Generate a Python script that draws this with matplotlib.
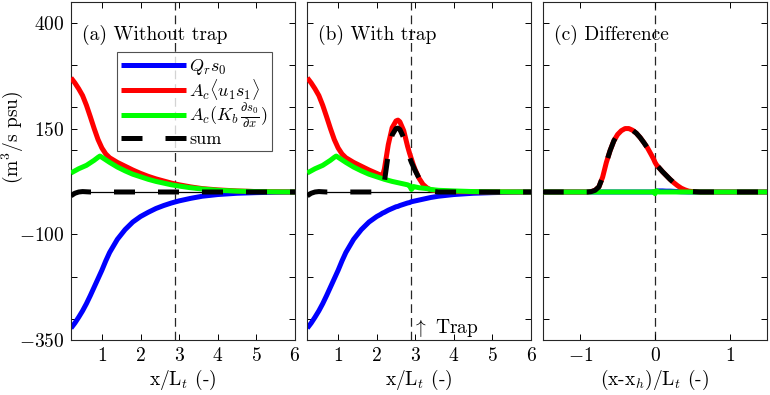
import numpy as np
import matplotlib
matplotlib.use("Agg")
import matplotlib.pyplot as plt
from matplotlib.ticker import FixedLocator, NullFormatter

plt.rcParams['font.family'] = ['cmr10']
plt.rcParams['mathtext.fontset'] = 'cm'
plt.rcParams['axes.unicode_minus'] = False
plt.rcParams['axes.formatter.use_mathtext'] = True

# ---------------- data ----------------
x_ab = [0.2, 0.3, 0.4, 0.5, 0.6, 0.7, 0.8, 0.9, 0.95, 1.0, 1.1, 1.2, 1.4, 1.6, 1.8,
        2.0, 2.2, 2.4, 2.6, 2.8, 3.0, 3.3, 3.6, 4.0, 4.5, 5.0, 5.5, 6.0]
blue_a = [-322, -310, -296, -281, -264, -245, -225, -205, -195, -185, -163, -143, -112,
          -89, -71, -58, -48, -39, -32, -26, -21, -15, -10, -6, -3, -1.5, -0.5, 0]
red_a = [270, 258, 244, 228, 205, 178, 150, 124, 114, 104, 90, 81, 70, 61, 52,
         44, 37, 31, 26, 21, 17, 12, 8, 5, 2.5, 1, 0.5, 0]
green_a = [45, 50, 55, 59, 63, 69, 75, 82, 85, 82, 76, 70, 59, 50, 42,
           36, 30, 25, 21, 17, 14, 10, 7, 4, 2, 1, 0.3, 0]
sum_a = [-9, -3, 0, 1, 0.5, 0, 0, 0, 0, 0, 0, 0, 0, 0, 0,
         0, 0, 0, 0, 0, 0, 0, 0, 0, 0, 0, 0, 0]

x_b = [0.2, 0.3, 0.4, 0.5, 0.6, 0.7, 0.8, 0.9, 0.95, 1.0, 1.1, 1.2, 1.4, 1.6, 1.8,
       2.0, 2.1, 2.15, 2.2, 2.3, 2.4, 2.5, 2.55, 2.6, 2.7, 2.8, 2.85, 2.9, 2.95,
       3.0, 3.1, 3.2, 3.3, 3.4, 3.6, 4.0, 4.5, 5.0, 5.5, 6.0]
blue_b = [-322, -310, -296, -281, -264, -245, -225, -205, -195, -185, -163, -143, -112,
          -89, -71, -58, -53, -50, -48, -43, -39, -35, -34, -32, -29, -26, -25, -23, -22,
          -21, -19, -17, -15, -13, -10, -6, -3, -1.5, -0.5, 0]
red_b = [270, 258, 244, 228, 205, 178, 150, 124, 114, 104, 90, 81, 70, 61, 52,
         44, 40, 38, 55, 112, 152, 168, 170, 166, 145, 108, 92, 78, 64,
         52, 32, 18, 10, 5, 2, 1, 0.5, 0.2, 0, 0]
green_b = [45, 50, 55, 59, 63, 69, 75, 82, 85, 82, 76, 70, 59, 50, 42,
           36, 33, 31.5, 30, 27.5, 25, 23, 22, 21, 19, 17, 15, 6, 13,
           12, 10, 9, 8, 6, 4, 2.5, 1, 0.5, 0.2, 0]
sum_b = [-9, -3, 0, 1, 0.5, 0, 0, 0, 0, 0, 0, 0, 0, 0, 0,
         0, 0, 2, 25, 90, 135, 150, 151, 148, 128, 95, 82, 70, 60,
         50, 32, 17, 7, 2, 0, 0, 0, 0, 0, 0]

x_c = [-1.5, -1.0, -0.9, -0.85, -0.8, -0.75, -0.7, -0.65, -0.6, -0.55, -0.5, -0.45,
       -0.4, -0.35, -0.3, -0.25, -0.2, -0.15, -0.1, -0.05, -0.02, 0.0, 0.02, 0.05,
       0.1, 0.15, 0.2, 0.25, 0.3, 0.35, 0.4, 0.45, 0.5, 0.6, 1.0, 1.5]
blue_c = [0, 0, 0, 0, 0, 0, 0, 0, 0, 0, 0, 0,
          0, 0, 0, 0, 0, 0, 0, 0, 0, 1, 2, 2.5,
          2.5, 2, 2, 1.5, 1, 0.5, 0.3, 0, 0, 0, 0, 0]
red_c = [0, 0, 0, 1, 4, 12, 35, 70, 98, 121, 136, 145,
         150, 150, 146, 139, 129, 117, 104, 88, 78, 70, 64, 58,
         48, 39, 30, 22, 15, 9, 5, 2, 1, 0, 0, 0]
green_c = [0, 0, 0, 0, 0, 0, 0, 0, 0, 0, 0, 0,
           0, 0, 0, 0, 0, 0, 0, 0, 1, -4, 3, 0,
           0, 0, 0, 0, 0, 0, 0, 0, 0, 0, 0, 0]
sum_c = [0, 0, 0, 1, 4, 12, 35, 70, 98, 121, 136, 145,
         150, 150, 146, 139, 129, 117, 104, 88, 78, 70, 64, 58,
         48, 39, 30, 22, 15, 9, 5, 2, 1, 0, 0, 0]

x_trap = 2.9
yticks_major = [-350, -100, 150, 400]
yticks_minor = [-300, -200, 0, 100, 200, 300]
xticks_ab = [1, 2, 3, 4, 5, 6]
xticks_c = [-1, 0, 1]

labels = [r'$Q_r s_0$', r'$A_c\langle u_1 s_1\rangle$',
          r'$A_c(K_b\,\frac{\partial s_0}{\partial x})$', 'sum']
titles = ['(a) Without trap', '(b) With trap', '(c) Difference']

# ---------------- figure ----------------
W, H = 770, 395
fig = plt.figure(figsize=(W / 100, H / 100), dpi=100)
bot = 1 - 340 / H
hgt = (340 - 1.7) / H
axA = fig.add_axes([71 / W, bot, 224 / W, hgt])
axB = fig.add_axes([307.3 / W, bot, 223.7 / W, hgt])
axC = fig.add_axes([542.7 / W, bot, 224.7 / W, hgt])

LW = 3.6
DASH = (4.2, 4.6)
FS = 14

def draw(ax, x, b, r, g, s, vline):
    ax.axhline(0, color='k', lw=0.9, zorder=1)
    ax.axvline(vline, color='#262626', lw=0.9, ls=(0, (7, 4)), zorder=1)
    l1, = ax.plot(x, b, color='#0000ff', lw=LW, solid_capstyle='butt', zorder=2)
    l2, = ax.plot(x, r, color='#ff0000', lw=LW, solid_capstyle='butt', zorder=3)
    l3, = ax.plot(x, g, color='#00ff00', lw=LW, solid_capstyle='butt', zorder=4)
    l4, = ax.plot(x, s, color='k', lw=LW, dashes=DASH, zorder=5)
    ax.set_ylim(-350, 450)
    ax.yaxis.set_major_locator(FixedLocator(yticks_major))
    ax.yaxis.set_minor_locator(FixedLocator(yticks_minor))
    ax.tick_params(which='both', direction='in', top=True, right=True,
                   length=4, width=0.7, labelsize=FS, pad=5)
    for sp in ax.spines.values():
        sp.set_linewidth(0.8)
        sp.set_color('#262626')
    return [l1, l2, l3, l4]

handles = draw(axA, x_ab, blue_a, red_a, green_a, sum_a, x_trap)
draw(axB, x_b, blue_b, red_b, green_b, sum_b, x_trap)
draw(axC, x_c, blue_c, red_c, green_c, sum_c, 0)

for ax in (axA, axB):
    ax.set_xlim(0.2, 6)
    ax.set_xticks(xticks_ab)
    ax.set_xlabel(r'x/L$_t$ (-)', fontsize=FS, labelpad=2)
axC.set_xlim(-1.5, 1.5)
axC.set_xticks(xticks_c)
axC.set_xlabel(r'(x-x$_h$)/L$_t$ (-)', fontsize=FS, labelpad=2)

axB.yaxis.set_major_formatter(NullFormatter())
axC.yaxis.set_major_formatter(NullFormatter())

for ax, t in zip((axA, axB, axC), titles):
    ax.text(0.05, 0.903, t, transform=ax.transAxes, fontsize=FS,
            ha='left', va='center')

axB.text(x_trap + 0.02, -322, r'$\uparrow$ Trap', fontsize=FS, ha='left', va='center')

fig.text(12 / W, 1 - 137 / H, r'(m$^3$/s psu)', rotation=90, fontsize=FS,
         ha='center', va='center')

leg = axA.legend(handles, labels, loc='upper left', bbox_to_anchor=(0.204, 0.85),
                 fontsize=13, handlelength=3.6, handletextpad=0.15,
                 borderpad=0.25, labelspacing=0.0, borderaxespad=0,
                 frameon=True, fancybox=False, edgecolor='#262626')
leg.get_frame().set_linewidth(0.8)

fig.savefig('out.png', dpi=100)
